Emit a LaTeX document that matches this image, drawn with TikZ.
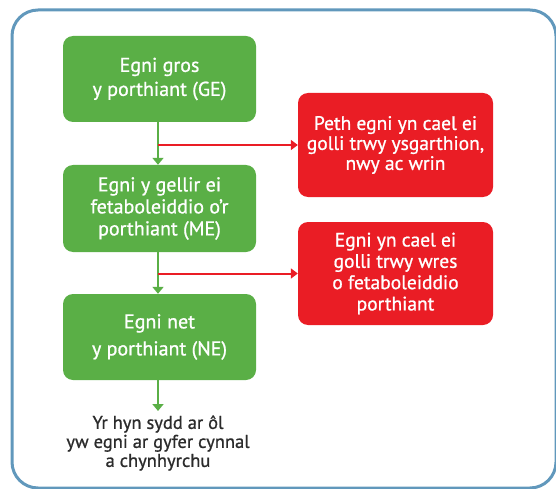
\documentclass[tikz,border=0pt]{standalone}
\usepackage{fontspec}
\setmainfont{PT Sans}[FakeBold=0.9]
\usetikzlibrary{arrows.meta}
\definecolor{frameblue}{HTML}{6198BC}
\definecolor{boxgreen}{HTML}{5AAF46}
\definecolor{boxred}{HTML}{EA1D25}
\definecolor{darktext}{HTML}{2B2B2B}
\tikzset{
  greenbox/.style={fill=boxgreen, draw=none, rounded corners=10pt, text=white,
    minimum width=193pt, minimum height=86pt, inner sep=0pt, align=center,
    font=\fontsize{20}{24}\selectfont},
  redbox/.style={fill=boxred, draw=none, rounded corners=10pt, text=white,
    minimum width=195pt, minimum height=104pt, inner sep=0pt, align=center,
    font=\fontsize{19.5}{20}\selectfont},
  greenarrow/.style={draw=boxgreen, line width=2pt, -{Triangle[width=11pt,length=7pt]}},
  redarrow/.style={draw=boxred, line width=2pt, -{Triangle[width=10pt,length=7pt]}},
  endtext/.style={text=darktext, align=center, inner sep=0pt,
    font=\fontsize{18.5}{19}\selectfont},
}
\begin{document}
\begin{tikzpicture}[x=1pt,y=-1pt]
\useasboundingbox (0,0) rectangle (556,489);
\begin{scope}
\clip (0,0) rectangle (556,489);
\draw[frameblue, line width=3pt, rounded corners=26pt] (12,10) rectangle (556,488);
\end{scope}
\node[greenbox] (g1) at (159.5,79) {Egni gros\\y porthiant (GE)};
\node[greenbox, minimum height=87pt, font=\fontsize{20}{22}\selectfont] (g2) at (159.5,208.5) {Egni y gellir ei\\fetaboleiddio o'r\\porthiant (ME)};
\node[greenbox, font=\fontsize{20}{27}\selectfont] (g3) at (159.5,337) {Egni net\\y porthiant (NE)};
\node[redbox] (r1) at (395.5,145) {Peth egni yn cael ei\\golli trwy ysgarthion,\\nwy ac wrin};
\node[redbox, minimum height=103pt, font=\fontsize{19.5}{21.3}\selectfont] (r2) at (395.5,273.5) {Egni yn cael ei\\golli trwy wres\\o fetaboleiddio\\porthiant};
\node[endtext] (t) at (158,443) {Yr hyn sydd ar ôl\\yw egni ar gyfer cynnal\\a chynhyrchu};
\coordinate (t0) at (158,411);
\draw[greenarrow] (g1.south -| 158,0) -- (g2.north -| 158,0);
\draw[greenarrow] (g2.south -| 158,0) -- (g3.north -| 158,0);
\draw[greenarrow] (g3.south -| 158,0) -- (t0);
\draw[redarrow] (158,0 |- r1.west) -- (r1.west);
\draw[redarrow] (158,0 |- r2.west) -- (r2.west);
\end{tikzpicture}
\end{document}
